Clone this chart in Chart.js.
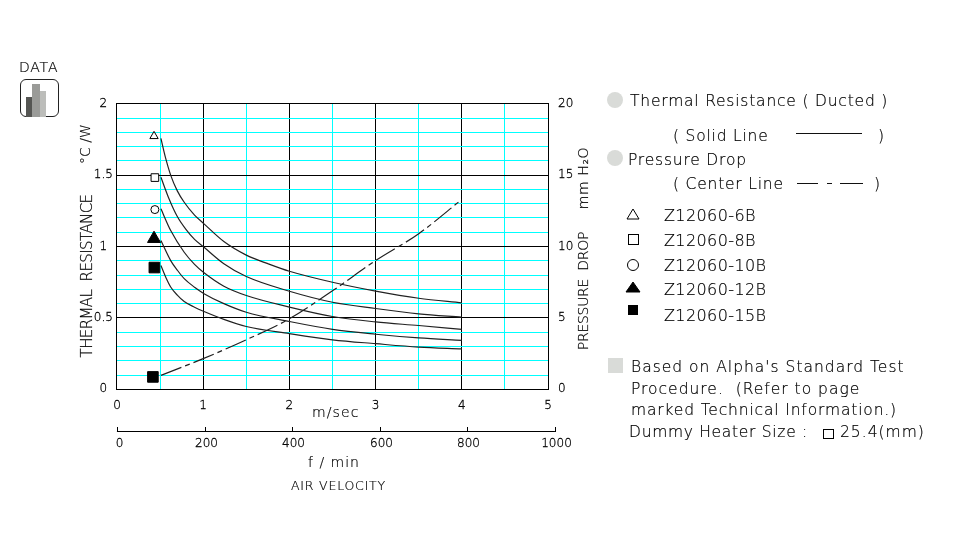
<!DOCTYPE html>
<html>
<head>
<meta charset="utf-8">
<title>Z12060 thermal resistance</title>
<script src="https://cdn.jsdelivr.net/npm/chart.js@4"></script>
<style>
  html, body { margin: 0; padding: 0; background: #fff; }
  #wrap { position: relative; width: 967px; height: 539px; overflow: hidden; }
  #c { position: absolute; left: 0; top: 0; }
  .t { position: absolute; white-space: pre; color: #000; font-family: "DejaVu Sans", sans-serif; font-weight: 200; line-height: 1; transform: translateY(-50%); -webkit-text-stroke: 0.2px #000; }
  .r { transform: translate(-50%, -50%) rotate(-90deg); }
  .b { position: absolute; }
</style>
</head>
<body>
<div id="wrap"><canvas id="c" width="967" height="539"></canvas></div>
<script>
const xTicks = [0, 0.5, 1, 1.5, 2, 2.5, 3, 3.5, 4, 4.5, 5];
const fpmTicks = [0, 200, 400, 600, 800, 1000];
const msPerFpm = 0.00508;

// x in m/sec, y in C/W
const velocity6B  = [0.51, 0.56, 0.625, 0.7, 0.78, 0.9, 1.01, 1.24, 1.5, 1.75, 2, 2.5, 3, 3.5, 4];
const resist6B    = [1.757, 1.63, 1.497, 1.39, 1.31, 1.22, 1.159, 1.035, 0.94, 0.88, 0.827, 0.75, 0.688, 0.638, 0.606];
const velocity8B  = [0.51, 0.605, 0.7, 0.8, 0.9, 1.01, 1.24, 1.5, 2, 2.5, 3, 3.5, 4];
const resist8B    = [1.485, 1.333, 1.21, 1.12, 1.05, 0.995, 0.88, 0.79, 0.687, 0.61, 0.566, 0.529, 0.506];
const velocity10B = [0.51, 0.625, 0.78, 0.9, 1.01, 1.24, 1.5, 2, 2.5, 3, 3.5, 4];
const resist10B   = [1.264, 1.11, 0.96, 0.875, 0.816, 0.722, 0.657, 0.576, 0.51, 0.472, 0.447, 0.42];
const velocity12B = [0.51, 0.625, 0.7, 0.78, 0.9, 1.01, 1.24, 1.5, 2, 2.5, 3, 3.5, 4];
const resist12B   = [1.042, 0.9, 0.835, 0.775, 0.715, 0.67, 0.6, 0.54, 0.475, 0.42, 0.386, 0.36, 0.343];
const velocity15B = [0.51, 0.57, 0.625, 0.7, 0.78, 0.9, 1.01, 1.24, 1.5, 2, 2.5, 3, 3.5, 4];
const resist15B   = [0.867, 0.78, 0.715, 0.66, 0.615, 0.575, 0.545, 0.49, 0.44, 0.39, 0.347, 0.32, 0.296, 0.284];
// mm H2O
const velocityDrop = [0.51, 1, 1.5, 2, 2.5, 3, 3.5, 4];
const pressureDrop = [0.98, 2.15, 3.47, 4.94, 6.9, 9.02, 10.9, 13.3];

const markerX = [0.43, 0.44, 0.44, 0.43, 0.434, 0.417];
const markerY = [1.773, 1.483, 1.259, 1.055, 0.853, 0.087];
const markerStyle = ["triangle", "rect", "circle", "triangle", "rect", "rect"];
const markerFill = ["#fff", "#fff", "#fff", "#000", "#000", "#000"];
const markerSize = [4.8, 5.4, 4, 7.5, 7.5, 7.5];

const modelNames = ["Z12060-6B", "Z12060-8B", "Z12060-10B", "Z12060-12B", "Z12060-15B"];

const FONT = "'DejaVu Sans', sans-serif";
const tickFont = { family: FONT, weight: "200", size: 12 };

function zip(xs, ys) {
    return xs.map((x, i) => ({ x: x, y: ys[i] }));
}

function curve(xs, ys) {
    return {
        data: zip(xs, ys),
        borderColor: "#222",
        borderWidth: 1.2,
        pointRadius: 0,
        cubicInterpolationMode: "monotone",
        fill: false
    };
}

// bottom f/min ruler runs past the plot (1000 f/min = 5.08 m/s) so it is drawn by hand off the x scale
const fpmAxis = {
    id: "fpmAxis",
    afterDraw(chart) {
        const ctx = chart.ctx;
        const x = chart.scales.x;
        const y = 431;
        ctx.save();
        ctx.strokeStyle = "#000";
        ctx.lineWidth = 1;
        ctx.beginPath();
        ctx.moveTo(x.getPixelForValue(0), y + 0.5);
        ctx.lineTo(x.getPixelForValue(fpmTicks[fpmTicks.length - 1] * msPerFpm), y + 0.5);
        ctx.stroke();
        ctx.fillStyle = "#000";
        ctx.font = "200 12px " + FONT;
        ctx.textAlign = "center";
        ctx.textBaseline = "middle";
        fpmTicks.forEach(v => {
            const px = Math.round(x.getPixelForValue(v * msPerFpm)) + 0.5;
            ctx.lineWidth = 1;
            ctx.beginPath();
            ctx.moveTo(px, y - 4);
            ctx.lineTo(px, y + 1);
            ctx.stroke();
            ctx.lineWidth = 0.3;
            ctx.fillText(String(v), px + (v === 0 ? 2 : 1), 443.5);
            ctx.strokeText(String(v), px + (v === 0 ? 2 : 1), 443.5);
        });
        ctx.restore();
    }
};

new Chart(document.getElementById("c"), {
    type: "line",
    data: {
        datasets: [
            curve(velocity6B, resist6B),
            curve(velocity8B, resist8B),
            curve(velocity10B, resist10B),
            curve(velocity12B, resist12B),
            curve(velocity15B, resist15B),
            {
                data: zip(velocityDrop, pressureDrop),
                yAxisID: "y2",
                borderColor: "#222",
                borderWidth: 1.2,
                borderDash: [22, 4, 5, 4],
                pointRadius: 0,
                cubicInterpolationMode: "monotone",
                fill: false
            },
            {
                data: zip(markerX, markerY),
                showLine: false,
                pointStyle: markerStyle,
                pointRadius: markerSize,
                pointBackgroundColor: markerFill,
                pointBorderColor: "#000",
                pointBorderWidth: 1,
                clip: false
            }
        ]
    },
    options: {
        responsive: false,
        animation: false,
        layout: { padding: { top: 103.75, left: 0, right: 0, bottom: 0 } },
        plugins: { legend: { display: false }, tooltip: { enabled: false } },
        scales: {
            x: {
                type: "linear",
                min: 0,
                max: 5,
                afterFit: s => { s.height = 149.65; },
                afterBuildTicks: s => { s.ticks = xTicks.map(v => ({ value: v })); },
                border: { color: "#000" },
                grid: {
                    drawTicks: false,
                    color: c => (c.tick && Number.isInteger(c.tick.value) ? "#000" : "#00ffff"),
                    lineWidth: 1
                },
                ticks: {
                    autoSkip: false,
                    maxRotation: 0,
                    padding: 9,
                    color: "#000",
                    textStrokeColor: "#000",
                    textStrokeWidth: 0.3,
                    font: tickFont,
                    callback: v => (Number.isInteger(v) ? String(v) : "")
                }
            },
            y: {
                min: 0,
                max: 2,
                afterFit: s => { s.width = 116.95; },
                border: { color: "#000" },
                grid: {
                    drawTicks: false,
                    color: c => (Math.round(c.tick.value * 10) % 5 === 0 ? "#000" : "#00ffff"),
                    lineWidth: 1
                },
                ticks: {
                    stepSize: 0.1,
                    autoSkip: false,
                    padding: 4,
                    crossAlign: "center",
                    color: "#000",
                    textStrokeColor: "#000",
                    textStrokeWidth: 0.3,
                    font: tickFont,
                    callback: v => (Math.round(v * 10) % 5 === 0 ? String(Math.round(v * 10) / 10) : "")
                }
            },
            y2: {
                position: "right",
                min: 0,
                max: 20,
                afterFit: s => { s.width = 418.95; },
                border: { color: "#000" },
                grid: { display: false, drawTicks: false },
                ticks: {
                    stepSize: 5,
                    padding: 10,
                    color: "#000",
                    textStrokeColor: "#000",
                    textStrokeWidth: 0.3,
                    font: tickFont
                }
            }
        }
    },
    plugins: [fpmAxis]
});

// labels around the plot and the notes panel
const wrap = document.getElementById("wrap");

function addText(s, x, y, size, spacing) {
    const d = document.createElement("div");
    d.className = "t";
    d.textContent = s;
    d.style.left = x + "px";
    d.style.top = (y + 1.5) + "px";
    d.style.fontSize = size + "px";
    if (spacing) d.style.letterSpacing = spacing + "px";
    wrap.appendChild(d);
    return d;
}

function addRotated(s, x, y, size, spacing) {
    const d = addText(s, x, y, size, spacing);
    d.className = "t r";
    d.style.top = y + "px";
    return d;
}

function addBox(x, y, w, h, css) {
    const d = document.createElement("div");
    d.className = "b";
    d.style.cssText = `left:${x}px;top:${y}px;width:${w}px;height:${h}px;${css}`;
    wrap.appendChild(d);
    return d;
}

function addTriangle(cx, cy, w, h, filled) {
    const ns = "http://www.w3.org/2000/svg";
    const svg = document.createElementNS(ns, "svg");
    svg.setAttribute("width", w + 2);
    svg.setAttribute("height", h + 2);
    svg.style.cssText = `position:absolute;left:${cx - w / 2 - 1}px;top:${cy - h / 2 - 1}px`;
    const p = document.createElementNS(ns, "polygon");
    p.setAttribute("points", `${w / 2 + 1},1 ${w + 1},${h + 1} 1,${h + 1}`);
    p.setAttribute("fill", filled ? "#000" : "#fff");
    p.setAttribute("stroke", "#000");
    svg.appendChild(p);
    wrap.appendChild(svg);
}

addText("DATA", 19, 65.5, 14, 0.8);
addBox(20, 79, 37, 36, "border:1px solid #222;border-radius:6px;");
addBox(26, 97, 6, 20, "background:#555653;");
addBox(32, 84, 8, 33, "background:#9a9b98;");
addBox(40, 91, 6, 26, "background:#bcbdba;");

addText("m/sec", 312, 410, 14, 1.1);
addText("f / min", 308, 460.5, 14, 1);
addText("AIR VELOCITY", 291, 484.5, 12.5, 0.8);
addRotated("THERMAL  RESISTANCE", 87, 276, 15, -0.6);
addRotated("°C /W", 85, 144, 14, 0);
addRotated("PRESSURE  DROP", 583, 291, 14, -0.3);
addRotated("mm H₂O", 583, 178, 14, 0.6);

addBox(607, 92, 16, 16, "background:#d9dbd8;border-radius:50%;");
addText("Thermal Resistance ( Ducted )", 630, 100, 15.5, 0.8);
addText("( Solid Line", 673, 135, 15.5, 0.8);
addBox(796, 133, 66, 1, "background:#111;");
addText(")", 878, 135, 15.5);
addBox(607, 150, 16, 16, "background:#d9dbd8;border-radius:50%;");
addText("Pressure Drop", 628, 159, 15.5, 0.8);
addText("( Center Line", 673, 183, 15.5, 0.8);
addBox(797, 183, 21, 1, "background:#111;");
addBox(827, 183, 5, 1, "background:#111;");
addBox(840, 183, 23, 1, "background:#111;");
addText(")", 874, 183, 15.5);

addTriangle(633, 213.5, 12, 10, false);
addBox(628, 234, 9, 9, "border:1px solid #000;");
addBox(627, 259, 10, 10, "border:1px solid #000;border-radius:50%;");
addTriangle(633, 286.5, 14, 10, true);
addBox(628, 305, 10, 10, "background:#000;");
const modelY = [215, 240, 265, 289, 315];
modelNames.forEach((name, i) => addText(name, 664, modelY[i] - 0.5, 16, 0.4));

addBox(608, 358, 15, 15, "background:#d9dbd8;");
addText("Based on Alpha's Standard Test", 631, 366, 15.5, 1);
addText("Procedure.  (Refer to page", 631, 388, 15.5, 1);
addText("marked Technical Information.)", 631, 409, 15.5, 0.85);
addText("Dummy Heater Size :", 629, 431, 15.5, 0.7);
addBox(823, 429, 9, 8, "border:1px solid #000;");
addText("25.4(mm)", 840, 431, 15.5, 1);
</script>
</body>
</html>
